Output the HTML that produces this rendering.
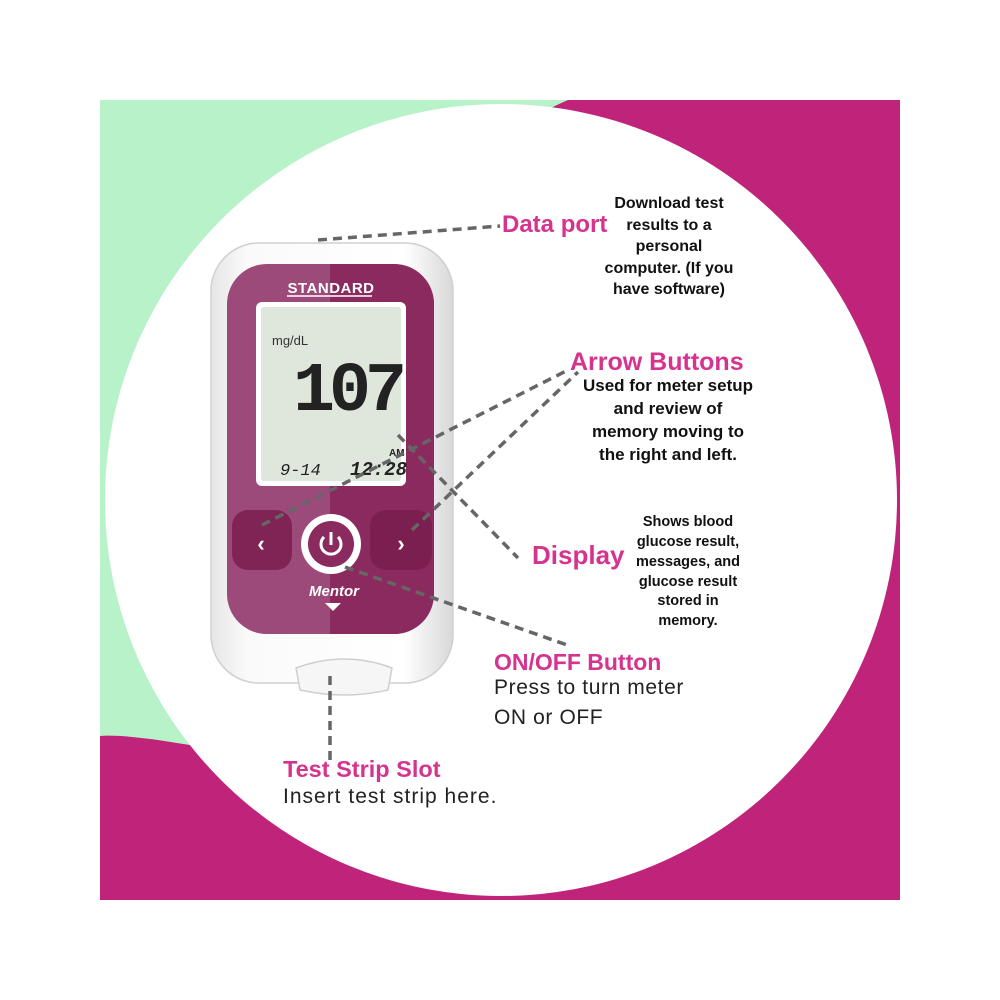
<!DOCTYPE html>
<html><head><meta charset="utf-8"><style>
html,body{margin:0;padding:0;background:#fff}
svg{display:block}
</style></head><body>
<svg width="1000" height="1000" viewBox="0 0 1000 1000" xmlns="http://www.w3.org/2000/svg" font-family="Liberation Sans, DejaVu Sans, sans-serif">
<rect x="100" y="100" width="800" height="800" fill="#c0237a"/>
<path d="M100,100 H568 C330,200 260,700 190,745 C160,740 120,734 100,736 Z" fill="#b8f2c9"/>
<circle cx="501" cy="500" r="396" fill="#fff"/>

<defs>
<linearGradient id="bodyg" x1="0" x2="1" y1="0" y2="0">
<stop offset="0" stop-color="#e6e6e6"/><stop offset="0.15" stop-color="#fafafa"/><stop offset="0.8" stop-color="#ffffff"/><stop offset="1" stop-color="#d8d8d8"/>
</linearGradient>
</defs>
<rect x="211" y="243" width="242" height="440" rx="48" fill="url(#bodyg)" stroke="#d0d0d0" stroke-width="1.5"/>
<path d="M296,668 Q345,650 392,668 L388,690 Q345,700 300,690 Z" fill="#f6f6f6" stroke="#cfcfcf" stroke-width="1.5"/>
<clipPath id="face"><rect x="227" y="264" width="207" height="370" rx="40"/></clipPath>
<g clip-path="url(#face)">
<rect x="227" y="264" width="207" height="370" fill="#9c4a7a"/>
<rect x="330" y="264" width="110" height="370" fill="#8a2a5e"/>
</g>
<text x="331" y="293" font-size="15" font-weight="bold" fill="#fff" text-anchor="middle" letter-spacing="0.5">STANDARD</text>
<line x1="287" y1="296" x2="372" y2="296" stroke="#fff" stroke-width="1.5"/>
<rect x="256" y="302" width="150" height="184" rx="6" fill="#fff"/>
<rect x="261" y="307" width="140" height="174" rx="3" fill="#dfe6dc"/>
<text x="272" y="345" font-size="13" fill="#333">mg/dL</text>
<text x="347" y="410" font-size="70" font-family="Liberation Mono, monospace" fill="#222" text-anchor="middle" font-weight="bold" letter-spacing="-6">107</text>
<text x="389" y="456" font-size="10" fill="#222" font-weight="bold">AM</text>
<text x="280" y="475" font-size="17" fill="#222" font-family="Liberation Mono, monospace" font-style="italic">9-14</text>
<text x="350" y="475" font-size="19" fill="#222" font-family="Liberation Mono, monospace" font-style="italic" font-weight="bold">12:28</text>
<rect x="232" y="510" width="60" height="60" rx="16" fill="#7f2454"/>
<rect x="370" y="510" width="62" height="60" rx="16" fill="#7a1f50"/>
<text x="261" y="551" font-size="22" fill="#fff" text-anchor="middle" font-weight="bold">‹</text>
<text x="401" y="551" font-size="22" fill="#fff" text-anchor="middle" font-weight="bold">›</text>
<circle cx="331" cy="544" r="30" fill="#fff"/>
<circle cx="331" cy="544" r="23" fill="#8a2a5e"/>
<path d="M324,537 A10,10 0 1 0 338,537" fill="none" stroke="#fff" stroke-width="3"/>
<line x1="331" y1="532" x2="331" y2="545" stroke="#fff" stroke-width="3"/>
<text x="334" y="596" font-size="15" fill="#fff" font-weight="bold" font-style="italic" text-anchor="middle">Mentor</text>
<path d="M325,603 L341,603 L333,611 Z" fill="#fff"/>

<g stroke="#666" stroke-width="3.5" stroke-dasharray="9,6" fill="none">
<line x1="318" y1="240" x2="500" y2="226"/>
<line x1="262" y1="525" x2="568" y2="370"/>
<line x1="412" y1="530" x2="578" y2="372"/>
<line x1="398" y1="435" x2="518" y2="558"/>
<line x1="345" y1="567" x2="570" y2="646"/>
<line x1="330" y1="676" x2="330" y2="762"/>
</g>

<g font-weight="bold" fill="#d6338f">
<text x="502" y="232" font-size="24">Data port</text>
<text x="570" y="370" font-size="25">Arrow Buttons</text>
<text x="532" y="564" font-size="26">Display</text>
<text x="494" y="670" font-size="23">ON/OFF Button</text>
<text x="283" y="777" font-size="23.5">Test Strip Slot</text>
</g>
<g font-weight="bold" fill="#111" text-anchor="middle" font-size="16">
<text x="669" y="208">Download test</text>
<text x="669" y="230">results to a</text>
<text x="669" y="251">personal</text>
<text x="669" y="273">computer. (If you</text>
<text x="669" y="294">have software)</text>
</g>
<g font-weight="bold" fill="#111" text-anchor="middle" font-size="17">
<text x="668" y="391">Used for meter setup</text>
<text x="668" y="414">and review of</text>
<text x="668" y="437">memory moving to</text>
<text x="668" y="460">the right and left.</text>
</g>
<g font-weight="bold" fill="#111" text-anchor="middle" font-size="14.5">
<text x="688" y="526">Shows blood</text>
<text x="688" y="546">glucose result,</text>
<text x="688" y="566">messages, and</text>
<text x="688" y="586">glucose result</text>
<text x="688" y="605">stored in</text>
<text x="688" y="625">memory.</text>
</g>
<g fill="#222" font-size="21" letter-spacing="0.6">
<text x="494" y="694">Press to turn meter</text>
<text x="494" y="724">ON or OFF</text>
<text x="283" y="803" letter-spacing="1">Insert test strip here.</text>
</g>
</svg>
</body></html>
